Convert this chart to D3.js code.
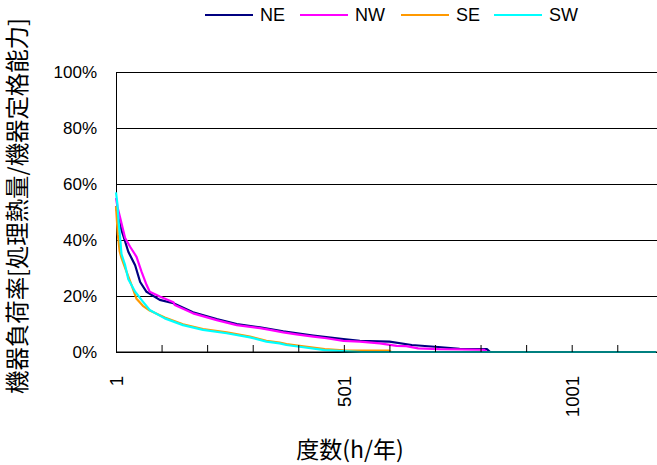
<!DOCTYPE html>
<html><head><meta charset="utf-8">
<script src="https://cdn.jsdelivr.net/npm/d3@7/dist/d3.min.js"></script>
<style>body{margin:0;background:#fff} svg{display:block}</style>
</head><body>
<svg id="c" width="657" height="465"></svg>
<script>
// ---- data (rank in hours/year, load ratio in %) ----
const seriesNames = ["NE", "NW", "SE", "SW"];
const seriesColors = ["#000080", "#FF00FF", "#FF9900", "#00FFFF"];
const hourCount = 1186;

const rankNE = [1, 6, 13, 20, 28, 43, 54, 68, 97, 127, 170, 222, 266, 317, 368, 434, 500, 536, 601, 650, 715, 755, 815, 822, 1186];
const loadNE = [52, 48, 43.6, 40, 35.8, 31, 25, 21.5, 18.6, 17.4, 14.2, 11.8, 10.0, 8.8, 7.4, 5.9, 4.6, 4.0, 3.7, 2.5, 1.7, 1.1, 1.0, 0, 0];

const rankNW = [1, 4, 10, 16, 21, 32, 46, 57, 68, 75, 97, 127, 130, 170, 222, 266, 317, 339, 368, 397, 434, 463, 500, 536, 580, 617, 638, 664, 711, 808, 815, 1186];
const loadNW = [55, 52, 48, 44, 40.7, 37.6, 34, 28.7, 24, 21.5, 19.8, 17.8, 16.8, 13.8, 11.4, 9.6, 8.5, 7.9, 7.0, 6.3, 5.5, 4.9, 4.0, 3.7, 3.1, 2.2, 2.1, 1.3, 1.0, 0.8, 0, 0];

const rankSE = [1, 5, 9, 13, 24, 35, 46, 60, 75, 108, 148, 192, 244, 295, 331, 360, 375, 412, 459, 500, 560, 600, 605, 1186];
const loadSE = [52, 42, 36, 33.6, 28.7, 24, 19, 16.5, 14.8, 12.3, 9.9, 8.2, 7.0, 5.5, 4.0, 3.4, 2.8, 2.0, 1.0, 0.6, 0.5, 0.5, 0, 0];

const rankSW = [1, 4, 7, 10, 13, 21, 28, 43, 60, 75, 108, 148, 192, 244, 295, 331, 360, 375, 412, 459, 500, 540, 1186];
const loadSW = [57, 53, 46, 41, 35, 31, 26, 21.5, 18, 15, 12, 9.6, 7.9, 6.7, 5.2, 3.7, 3.1, 2.5, 1.7, 0.7, 0.3, 0, 0];

const yTicks = [0, 20, 40, 60, 80, 100];
const xTicks = [1, 101, 201, 301, 401, 501, 601, 701, 801, 901, 1001, 1101];
const xTickLabels = [1, 501, 1001];
const xTitle = "度数(h/年)";
const yTitle = "機器負荷率[処理熱量/機器定格能力]";

const ranks = [rankNE, rankNW, rankSE, rankSW];
const loads = [loadNE, loadNW, loadSE, loadSW];

// ---- layout ----
const svg = d3.select("#c");
const mLeft = 116, mRight = 656, mTop = 72, mBottom = 352;
const latin = "'Liberation Sans', Arial, sans-serif";
const cjk = "'Noto Sans CJK JP', 'Liberation Sans', sans-serif";

const x = d3.scaleLinear().domain([1, hourCount]).range([mLeft, mRight]);
const y = d3.scaleLinear().domain([0, 100]).range([mBottom, mTop]);

// y axis with gridlines
const yAxis = svg.append("g").attr("transform", `translate(${mLeft},0)`)
  .call(d3.axisLeft(y).tickValues(yTicks).tickSizeInner(-(657 - mLeft)).tickSizeOuter(0)
    .tickPadding(19).tickFormat(d => d + "%"));
yAxis.select(".domain").attr("stroke", "#000");
yAxis.selectAll(".tick line").attr("stroke", "#000").attr("stroke-width", 1);
yAxis.selectAll(".tick text").attr("font-family", latin).attr("font-size", 17).attr("fill", "#000");

// series
const line = d3.line().x(d => x(d[0])).y(d => y(d[1])).curve(d3.curveLinear);
const g = svg.append("g");
seriesNames.forEach((name, k) => {
  const pts = ranks[k].map((r, i) => [r, loads[k][i]]);
  g.append("path").datum(pts).attr("d", line)
    .attr("fill", "none").attr("stroke", seriesColors[k]).attr("stroke-width", 2.2)
    .attr("stroke-linejoin", "round");
});

// x axis
const xAxis = svg.append("g").attr("transform", `translate(0,${mBottom})`)
  .call(d3.axisBottom(x).tickValues(xTicks).tickSizeInner(-7).tickSizeOuter(0)
    .tickPadding(0).tickFormat(d => xTickLabels.includes(d) ? d : ""));
xAxis.select(".domain").attr("stroke", "#000").attr("d", `M${mLeft},0H657`);
xAxis.selectAll(".tick line").attr("stroke", "#000");
xAxis.selectAll(".tick text")
  .attr("font-family", latin).attr("font-size", 18.5).attr("fill", "#000")
  .attr("transform", "rotate(-90)").attr("text-anchor", "end")
  .attr("x", -24).attr("y", 0).attr("dy", "0.35em");

// titles
svg.append("text").attr("x", 350).attr("y", 458).attr("text-anchor", "middle")
  .attr("font-family", cjk).attr("font-size", 23).attr("fill", "#000").text(xTitle);
svg.append("text").attr("transform", "translate(26,206) rotate(-90)").attr("text-anchor", "middle")
  .attr("font-family", cjk).attr("font-size", 23.4).attr("fill", "#000").text(yTitle);

// legend
const legendLineX = [205, 300, 401, 494];
const lg = svg.append("g");
seriesNames.forEach((name, k) => {
  lg.append("line").attr("x1", legendLineX[k]).attr("x2", legendLineX[k] + 48)
    .attr("y1", 15).attr("y2", 15).attr("stroke", seriesColors[k]).attr("stroke-width", 2.2);
  lg.append("text").attr("x", legendLineX[k] + 55).attr("y", 15).attr("dy", "0.35em")
    .attr("font-family", latin).attr("font-size", 18).attr("fill", "#000").text(name);
});
</script>
</body></html>
